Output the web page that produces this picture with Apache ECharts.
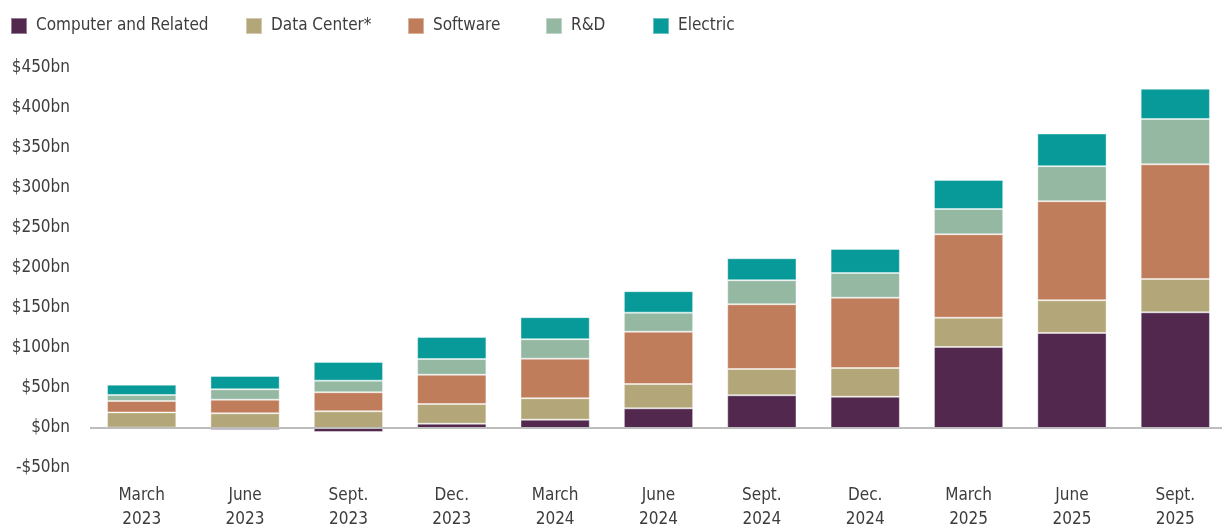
<!DOCTYPE html>
<html>
<head>
<meta charset="utf-8">
<script src="https://cdn.jsdelivr.net/npm/echarts@6/dist/echarts.min.js"></script>
<style>
  html, body { margin: 0; padding: 0; background: #fff; }
  #main { width: 1222px; height: 527px; }
</style>
</head>
<body>
<div id="main"></div>
<script>
// ---------------- data (US$ bn) ----------------
const quarters = ['March\n2023', 'June\n2023', 'Sept.\n2023', 'Dec.\n2023', 'March\n2024', 'June\n2024',
  'Sept.\n2024', 'Dec.\n2024', 'March\n2025', 'June\n2025', 'Sept.\n2025'];
const computerRelated = [0.5, -2.5, -5, 5.4, 10.4, 24.6, 40.9, 39.1, 101.3, 118.8, 144.6];
const dataCenter = [19, 18.4, 20.9, 24.6, 26.8, 30.4, 32.9, 35.9, 36.6, 40.9, 41.6];
const software = [14.3, 17, 23.8, 36.6, 49.5, 65.4, 80.9, 87.9, 104.3, 123.8, 143.4];
const rnd = [7.5, 13, 14.5, 19.6, 24.3, 23.8, 30, 30.9, 31.6, 43.8, 56.6];
const electric = [12.9, 16.6, 23.4, 27.5, 27.5, 26.8, 27.5, 30, 36.3, 40.8, 37.9];

const seriesNames = ['Computer and Related', 'Data Center*', 'Software', 'R&D', 'Electric'];
const seriesData = [computerRelated, dataCenter, software, rnd, electric];
const colors = ['#52284e', '#b3a77a', '#c07d5b', '#94b8a2', '#089a98'];
const legendLeft = [10, 245, 407, 545, 652];

const FONT = "'Liberation Sans Narrow', 'DejaVu Sans Condensed', sans-serif";
const TEXT = '#3d3d3d';

function buildChart() {
  let myChart = echarts.init(document.querySelector('#main'));

  // one legend per item so each sits where the reference puts it
  let legends = seriesNames.map((name, i) => ({
    data: [name],
    left: legendLeft[i],
    top: 17,
    padding: 0,
    icon: 'rect',
    itemWidth: 16,
    itemHeight: 16,
    selectedMode: false,
    textStyle: { fontFamily: FONT, fontSize: 17, color: TEXT, padding: [0, 0, 0, 4] }
  }));

  let series = seriesNames.map((name, i) => {
    let s = {
      name: name,
      type: 'bar',
      stack: 'total',
      barCategoryGap: '33%',
      data: seriesData[i],
      itemStyle: { color: colors[i], borderColor: 'rgba(255,255,255,0.4)', borderWidth: 1 }
    };
    if (i === 0) {
      // zero line
      s.markLine = {
        silent: true,
        symbol: 'none',
        label: { show: false },
        lineStyle: { color: '#bdbdbd', type: 'solid', width: 2 },
        data: [{ yAxis: 0 }]
      };
    }
    return s;
  });

  let option = {
    animation: false,
    color: colors,
    legend: legends,
    // the plot runs past the right edge in the reference, so no auto-fitting
    grid: { left: 90, top: 68, width: 1137, height: 400, outerBoundsMode: 'none', containLabel: false },
    xAxis: {
      type: 'category',
      data: quarters,
      axisLine: { show: false },
      axisTick: { show: false },
      axisLabel: { fontFamily: FONT, fontSize: 17, color: TEXT, lineHeight: 24, margin: 16, interval: 0 }
    },
    yAxis: {
      type: 'value',
      min: -50,
      max: 450,
      interval: 50,
      splitLine: { show: false },
      axisLine: { show: false },
      axisTick: { show: false },
      axisLabel: {
        fontFamily: FONT, fontSize: 17, color: TEXT, margin: 20,
        formatter: v => (v < 0 ? '-$' + (-v) : '$' + v) + 'bn'
      }
    },
    series: series
  };
  myChart.setOption(option);
}
buildChart();
</script>
</body>
</html>
